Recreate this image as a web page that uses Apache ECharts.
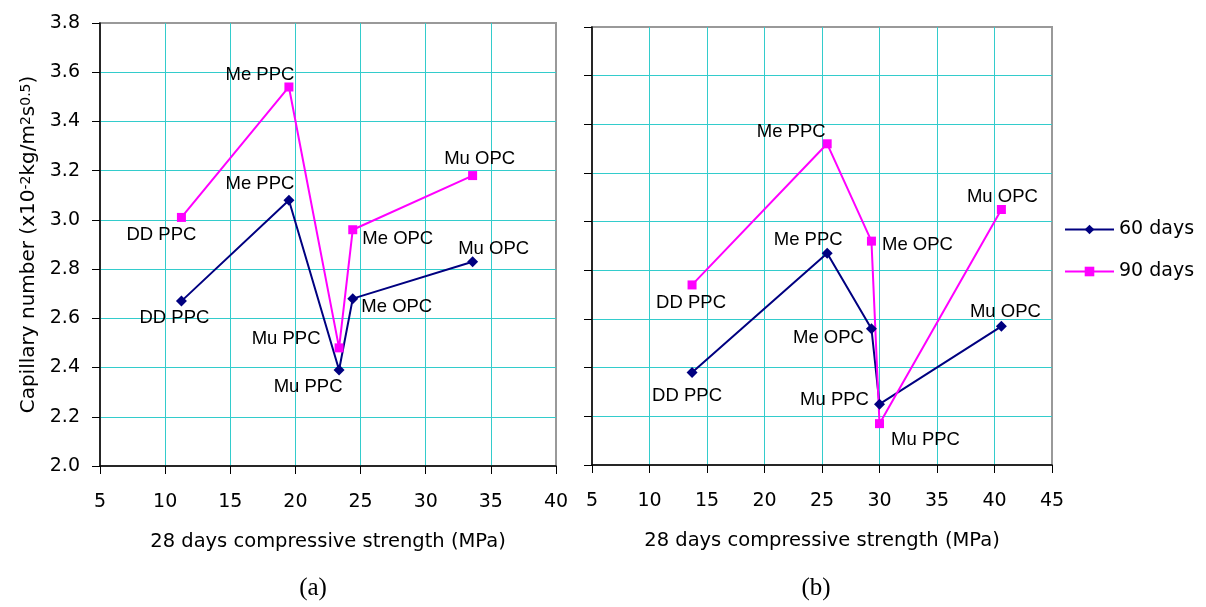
<!DOCTYPE html>
<html><head><meta charset="utf-8">
<script src="https://cdn.jsdelivr.net/npm/echarts@6/dist/echarts.min.js"></script>
<style>html,body{margin:0;padding:0;background:#fff}#c{width:1206px;height:607px}</style>
</head><body><div id="c"></div>
<script>
// ---- data ----
const labelsA = ['DD PPC', 'Me PPC', 'Mu PPC', 'Me OPC', 'Mu OPC'];
const strengthA = [11.25, 19.5, 23.35, 24.4, 33.6];
const capA60 = [2.67, 3.08, 2.39, 2.68, 2.83];
const capA90 = [3.01, 3.54, 2.48, 2.96, 3.18];

const labelsB = ['DD PPC', 'Me PPC', 'Me OPC', 'Mu PPC', 'Mu OPC'];
const strengthB = [13.7, 25.45, 29.3, 30.0, 40.6];
const capB60 = [2.38, 2.87, 2.56, 2.25, 2.57];
const capB90 = [2.74, 3.32, 2.92, 2.17, 3.05];

const yTicks = [2.0, 2.2, 2.4, 2.6, 2.8, 3.0, 3.2, 3.4, 3.6, 3.8];
const xTicksA = [5, 10, 15, 20, 25, 30, 35, 40];
const xTicksB = [5, 10, 15, 20, 25, 30, 35, 40, 45];
const seriesNames = ['60 days', '90 days'];
const panelTitles = ['(a)', '(b)'];

// ---- label placement (style) ----
const offA60 = [[-7, 17], [-29, -16], [-31, 17], [44, 8], [21, -13]];
const offA90 = [[-20, 17], [-29, -12], [-53, -9], [45, 9], [7, -17]];
const offB60 = [[-5, 23], [-19, -13], [-43, 9], [-45, -4], [4, -14]];
const offB90 = [[-1, 18], [-36, -12], [46, 4], [46, 16], [1, -13]];

const AX = '"DejaVu Sans", sans-serif';
const LB = '"Liberation Sans", Arial, sans-serif';
const GRIDC = '#33CCCC';

function pts(xs, ys, names, offs) {
  return xs.map((x, i) => ({ name: names[i], value: [x, ys[i]], label: { offset: offs[i] } }));
}

function mkX(idx, ticks) {
  return {
    type: 'value', gridIndex: idx,
    min: ticks[0], max: ticks[ticks.length - 1], interval: ticks[1] - ticks[0],
    name: '28 days compressive strength (MPa)', nameLocation: 'middle', nameGap: 66,
    nameTextStyle: { fontFamily: AX, fontSize: 19.5, color: '#000' },
    axisLine: { show: true, onZero: false, lineStyle: { color: '#000', width: 1.5 } },
    axisTick: { show: true, inside: false, length: 8, lineStyle: { color: '#000' } },
    axisLabel: { fontFamily: AX, fontSize: 19, color: '#000', margin: 27 },
    splitLine: { show: true, showMinLine: false, showMaxLine: false, lineStyle: { color: GRIDC, width: 1 } }
  };
}
function mkY(idx, showLabels) {
  const o = {
    type: 'value', gridIndex: idx,
    min: yTicks[0], max: yTicks[yTicks.length - 1], interval: 0.2,
    axisLine: { show: true, onZero: false, lineStyle: { color: '#000', width: 1.5 } },
    axisTick: { show: true, inside: false, length: 8, lineStyle: { color: '#000' } },
    axisLabel: { show: showLabels, fontFamily: AX, fontSize: 19, color: '#000', margin: 20,
      formatter: v => v.toFixed(1) },
    splitLine: { show: true, showMinLine: false, showMaxLine: false, lineStyle: { color: GRIDC, width: 1 } }
  };
  if (showLabels) {
    o.name = '{n|Capillary number (x10}{s|-2}{n|kg/m}{s|2}{n|s}{s|0.5}{n|)}';
    o.nameLocation = 'middle';
    o.nameGap = 61;
    o.nameTextStyle = {
      color: '#000',
      rich: {
        n: { fontFamily: AX, fontSize: 20, color: '#000' },
        s: { fontFamily: AX, fontSize: 14, color: '#000', verticalAlign: 'top' }
      }
    };
  }
  return o;
}
function mkSeries(name, xi, xs, ys, names, offs, color, symbol, size) {
  return {
    type: 'line', name: name, xAxisIndex: xi, yAxisIndex: xi,
    data: pts(xs, ys, names, offs),
    symbol: symbol, symbolSize: size, showAllSymbol: true,
    lineStyle: { color: color, width: 2 },
    itemStyle: { color: color },
    label: { show: true, position: 'inside', formatter: '{b}', fontFamily: LB, fontSize: 18.5,
      color: '#000', align: 'center', verticalAlign: 'middle' },
    emphasis: { disabled: true },
    z: 3
  };
}

const chart = echarts.init(document.getElementById('c'), null, { renderer: 'canvas' });
chart.setOption({
  animation: false,
  backgroundColor: '#fff',
  grid: [
    { left: 100, top: 23, width: 456, height: 443, show: true, borderColor: '#999', borderWidth: 2, backgroundColor: '#fff' },
    { left: 592, top: 27, width: 460, height: 438, show: true, borderColor: '#999', borderWidth: 2, backgroundColor: '#fff' }
  ],
  xAxis: [mkX(0, xTicksA), mkX(1, xTicksB)],
  yAxis: [mkY(0, true), mkY(1, false)],
  legend: {
    orient: 'vertical', left: 1059, top: 215, itemWidth: 49, itemHeight: 12, itemGap: 23,
    textStyle: { fontFamily: AX, fontSize: 19, color: '#000' },
    data: seriesNames
  },
  series: [
    mkSeries(seriesNames[0], 0, strengthA, capA60, labelsA, offA60, '#000080', 'diamond', 11),
    mkSeries(seriesNames[1], 0, strengthA, capA90, labelsA, offA90, '#FF00FF', 'rect', 9),
    mkSeries(seriesNames[0], 1, strengthB, capB60, labelsB, offB60, '#000080', 'diamond', 11),
    mkSeries(seriesNames[1], 1, strengthB, capB90, labelsB, offB90, '#FF00FF', 'rect', 9)
  ],
  graphic: [
    { type: 'text', x: 313, y: 588, style: { text: panelTitles[0], fontFamily: '"Liberation Serif", serif', fontSize: 25, fill: '#000', align: 'center', verticalAlign: 'middle' } },
    { type: 'text', x: 816, y: 588, style: { text: panelTitles[1], fontFamily: '"Liberation Serif", serif', fontSize: 25, fill: '#000', align: 'center', verticalAlign: 'middle' } }
  ]
});
</script>
</body></html>
